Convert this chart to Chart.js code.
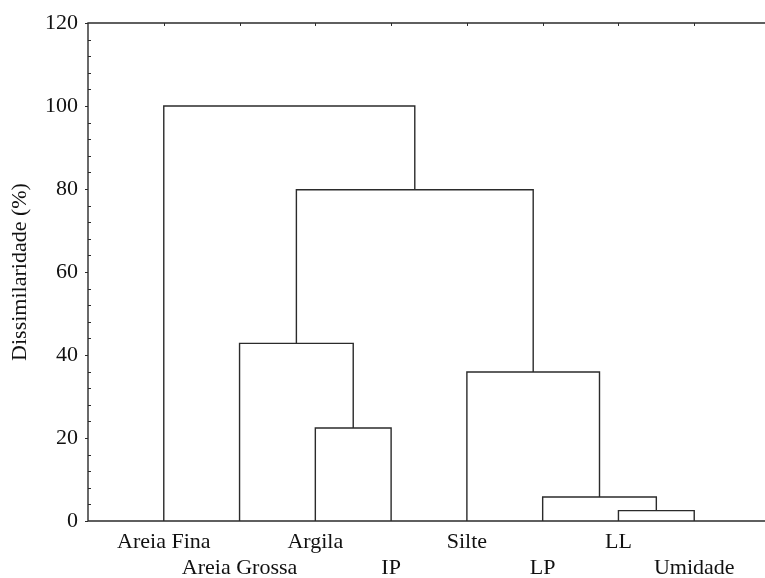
<!DOCTYPE html>
<html>
<head>
<meta charset="utf-8">
<script src="https://cdn.jsdelivr.net/npm/chart.js@4"></script>
<style>
  html, body { margin: 0; padding: 0; overflow: hidden; background: #fff; }
  #wrap { width: 770px; height: 578px; position: relative; }
</style>
</head>
<body>
<div id="wrap"><canvas id="dendro"></canvas></div>
<script>
// leaves, in the order they appear on the x axis
var leafNames = ['Areia Fina', 'Areia Grossa', 'Argila', 'IP', 'Silte', 'LP', 'LL', 'Umidade'];
// merges: [left node, right node, height]; nodes 0-7 are leaves, 8+ are earlier merges
var mergeLeft   = [6, 5, 2, 4, 1, 12, 0];
var mergeRight  = [7, 8, 3, 9, 10, 11, 13];
var mergeHeight = [2.5, 5.8, 22.4, 35.9, 42.8, 79.8, 100];
var yTicks = [0, 20, 40, 60, 80, 100, 120];

var lineColor = '#2b2b2b';
var textFont = { family: 'Liberation Serif', size: 22, lineHeight: 1.18 };

// position and height of each node
var nodeX = leafNames.map(function (_, i) { return i + 1; });
var nodeH = leafNames.map(function () { return 0; });
var datasets = [];
for (var m = 0; m < mergeHeight.length; m++) {
  var a = mergeLeft[m], b = mergeRight[m], h = mergeHeight[m];
  datasets.push({
    data: [
      { x: nodeX[a], y: nodeH[a] },
      { x: nodeX[a], y: h },
      { x: nodeX[b], y: h },
      { x: nodeX[b], y: nodeH[b] }
    ],
    showLine: true,
    borderColor: lineColor,
    borderWidth: 1.4,
    pointRadius: 0,
    fill: false,
    tension: 0
  });
  nodeX.push((nodeX[a] + nodeX[b]) / 2);
  nodeH.push(h);
}

var framePlugin = {
  id: 'frame',
  afterDatasetsDraw: function (chart) {
    var ctx = chart.ctx, area = chart.chartArea;
    var xs = chart.scales.x, ys = chart.scales.y;
    ctx.save();
    ctx.strokeStyle = lineColor;
    ctx.lineWidth = 1.4;
    ctx.beginPath();
    ctx.moveTo(area.right + 2, area.top);
    ctx.lineTo(area.left, area.top);
    ctx.lineTo(area.left, area.bottom);
    ctx.lineTo(area.right + 2, area.bottom);
    ctx.stroke();
    ctx.lineWidth = 1;
    ctx.beginPath();
    // y minor ticks (inside) and major ticks (outside)
    for (var v = 0; v <= 120; v += 4) {
      var py = Math.round(ys.getPixelForValue(v)) + 0.5;
      if (v % 20 === 0) {
        ctx.moveTo(area.left - 3, py); ctx.lineTo(area.left, py);
      } else {
        ctx.moveTo(area.left, py); ctx.lineTo(area.left + 3, py);
      }
    }
    // top ticks at the leaves
    leafNames.forEach(function (_, i) {
      var px = Math.round(xs.getPixelForValue(i + 1)) + 0.5;
      ctx.moveTo(px, area.top); ctx.lineTo(px, area.top + 3);
    });
    ctx.stroke();
    ctx.restore();
  }
};

new Chart(document.getElementById('dendro'), {
  type: 'scatter',
  data: { datasets: datasets },
  options: {
    animation: false,
    responsive: true,
    maintainAspectRatio: false,
    layout: { padding: { top: 21, right: 0, bottom: 0, left: 0 } },
    plugins: {
      legend: { display: false },
      tooltip: { enabled: false }
    },
    scales: {
      x: {
        type: 'linear',
        min: 0,
        max: 9,
        grid: { display: false, drawTicks: false },
        border: { display: false },
        afterBuildTicks: function (scale) {
          scale.ticks = leafNames.map(function (_, i) { return { value: i + 1 }; });
        },
        afterFit: function (scale) { scale.height = 57; },
        ticks: {
          autoSkip: false,
          maxRotation: 0,
          padding: 8,
          color: '#111',
          font: textFont,
          callback: function (value) {
            var i = Math.round(value) - 1;
            var name = leafNames[i] || '';
            return i % 2 === 0 ? [name, ''] : ['', name];
          }
        }
      },
      y: {
        type: 'linear',
        min: 0,
        max: 120,
        grid: { display: false, drawTicks: false },
        border: { display: false },
        afterBuildTicks: function (scale) {
          scale.ticks = yTicks.map(function (v) { return { value: v }; });
        },
        afterFit: function (scale) { scale.width = 88; },
        ticks: {
          padding: 10,
          color: '#111',
          font: textFont
        },
        title: {
          display: true,
          text: 'Dissimilaridade (%)',
          color: '#111',
          font: { family: 'Liberation Serif', size: 22 },
          padding: { top: 7, bottom: 0 }
        }
      }
    }
  },
  plugins: [framePlugin]
});
</script>
</body>
</html>
